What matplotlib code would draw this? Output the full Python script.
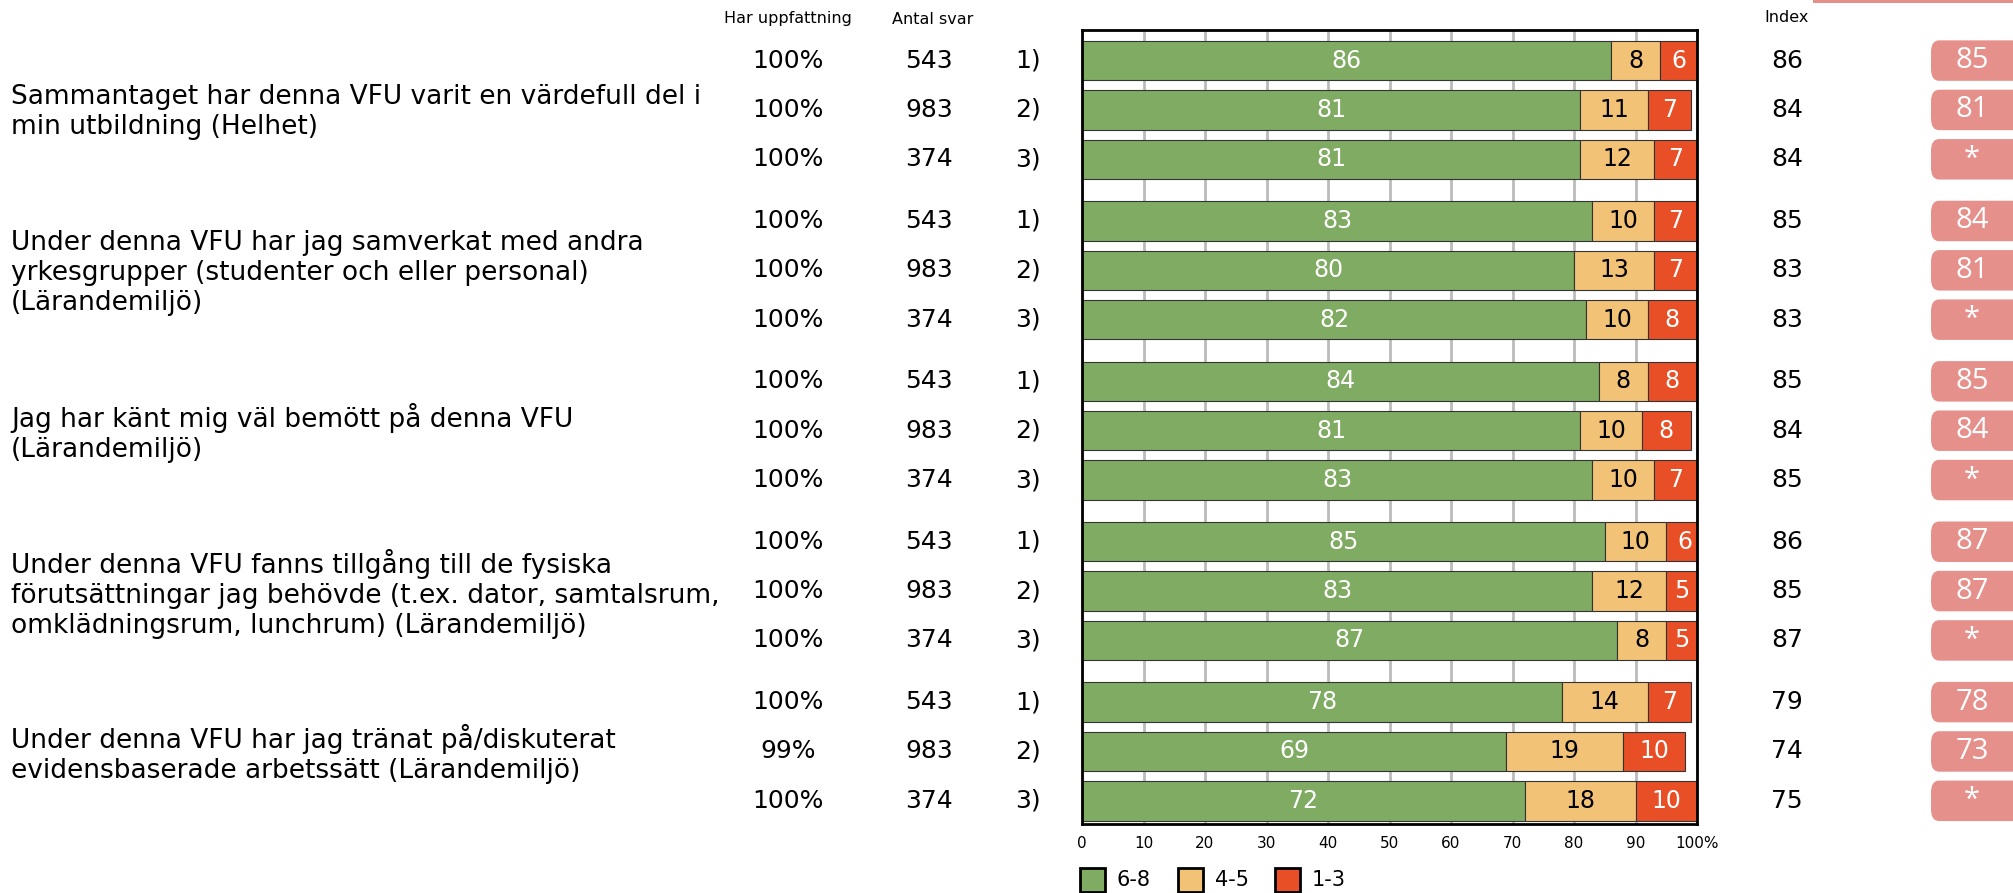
import matplotlib.pyplot as plt
from matplotlib.patches import FancyBboxPatch, Rectangle
from matplotlib.transforms import blended_transform_factory

plt.rcParams['font.family'] = ['DejaVu Sans']

fragor = [
    "Sammantaget har denna VFU varit en värdefull del i\nmin utbildning (Helhet)",
    "Under denna VFU har jag samverkat med andra\nyrkesgrupper (studenter och eller personal)\n(Lärandemiljö)",
    "Jag har känt mig väl bemött på denna VFU\n(Lärandemiljö)",
    "Under denna VFU fanns tillgång till de fysiska\nförutsättningar jag behövde (t.ex. dator, samtalsrum,\nomklädningsrum, lunchrum) (Lärandemiljö)",
    "Under denna VFU har jag tränat på/diskuterat\nevidensbaserade arbetssätt (Lärandemiljö)",
]
grupper = ["1)", "2)", "3)"]
uppfattning = ["100%", "100%", "100%", "100%", "100%", "100%", "100%", "100%",
               "100%", "100%", "100%", "100%", "100%", "99%", "100%"]
antal = [543, 983, 374] * 5
hog = [86, 81, 81, 83, 80, 82, 84, 81, 83, 85, 83, 87, 78, 69, 72]    # 6-8
mellan = [8, 11, 12, 10, 13, 10, 8, 10, 10, 10, 12, 8, 14, 19, 18]   # 4-5
lag = [6, 7, 7, 7, 7, 8, 8, 8, 7, 6, 5, 5, 7, 10, 10]                # 1-3
index = [86, 84, 84, 85, 83, 83, 85, 84, 85, 86, 85, 87, 79, 74, 75]
jamfor = ["85", "81", "*", "84", "81", "*", "85", "84", "*", "87", "87", "*", "78", "73", "*"]

gron, orange, rod = "#80ab63", "#f2c276", "#e84f26"
rosa = "#e6908c"

W, H = 2013, 893
fig = plt.figure(figsize=(W / 100, H / 100), dpi=100)
ax = fig.add_axes([1082 / W, 1 - 824 / H, (1697 - 1082) / W, (824 - 30) / H])

# radpositioner: tre rader per fråga, extra luft mellan frågorna
pos = [g * 3.25 + r for g in range(5) for r in range(3)]

ax.barh(pos, hog, height=0.8, color=gron, edgecolor="#333333", linewidth=0.8, zorder=2)
ax.barh(pos, mellan, left=hog, height=0.8, color=orange, edgecolor="#333333", linewidth=0.8, zorder=2)
vanster = [a + b for a, b in zip(hog, mellan)]
ax.barh(pos, lag, left=vanster, height=0.8, color=rod, edgecolor="#333333", linewidth=0.8, zorder=2)

for i, y in enumerate(pos):
    ax.text(hog[i] / 2, y, str(hog[i]), ha="center", va="center", color="white", fontsize=17, zorder=3)
    ax.text(hog[i] + mellan[i] / 2, y, str(mellan[i]), ha="center", va="center", color="black", fontsize=17, zorder=3)
    ax.text(vanster[i] + lag[i] / 2, y, str(lag[i]), ha="center", va="center", color="white", fontsize=17, zorder=3)

ax.set_xlim(0, 100)
ax.set_ylim(15.47, -0.62)
ax.set_xticks(range(0, 101, 10))
ax.set_xticklabels([str(v) for v in range(0, 100, 10)] + ["100%"], fontsize=11)
ax.set_yticks([])
ax.tick_params(axis="x", length=0, pad=9)
ax.grid(axis="x", color="#bbbbbb", linewidth=2, zorder=0)
for s in ax.spines.values():
    s.set_linewidth(2)
    s.set_color("black")

tr = blended_transform_factory(fig.transFigure, ax.transData)
for i, y in enumerate(pos):
    fig.text(788 / W, y, uppfattning[i], ha="center", va="center", fontsize=18, transform=tr)
    fig.text(929 / W, y, str(antal[i]), ha="center", va="center", fontsize=18, transform=tr)
    fig.text(1028 / W, y, grupper[i % 3], ha="center", va="center", fontsize=18, transform=tr)
    fig.text(1787 / W, y, str(index[i]), ha="center", va="center", fontsize=18, transform=tr)
    box = FancyBboxPatch((1931 / W, y - 0.41), 0.06, 0.82, boxstyle="round,pad=0,rounding_size=0.004",
                         transform=tr, facecolor=rosa, edgecolor="none", clip_on=False, mutation_aspect=60)
    fig.add_artist(box)
    fig.text(1972 / W, y, jamfor[i], ha="center", va="center", fontsize=21, color="white",
             family=["Open Sans", "DejaVu Sans"], transform=tr)

for g, fraga in enumerate(fragor):
    fig.text(11 / W, pos[g * 3 + 1] + 0.05, fraga, ha="left", va="center", fontsize=19,
             linespacing=1.2, transform=tr)

fig.text(788 / W, 1 - 19 / H, "Har uppfattning", ha="center", va="center", fontsize=11.5)
fig.text(933 / W, 1 - 19 / H, "Antal svar", ha="center", va="center", fontsize=11.5)
fig.text(1787 / W, 1 - 17 / H, "Index", ha="center", va="center", fontsize=11.5)
fig.add_artist(Rectangle((1813 / W, 1 - 3 / H), (W - 1813) / W, 3 / H, transform=fig.transFigure,
                         facecolor=rosa, edgecolor="none"))

# förklaring under diagrammet
for x0, farg, namn in [(1080, gron, "6-8"), (1178, orange, "4-5"), (1275, rod, "1-3")]:
    fig.add_artist(Rectangle((x0 / W, 1 - 892 / H), 25 / W, 24 / H, transform=fig.transFigure,
                             facecolor=farg, edgecolor="black", linewidth=2))
    fig.text((x0 + 37) / W, 1 - 880 / H, namn, ha="left", va="center", fontsize=15)

fig.savefig("out.png", dpi=100)
